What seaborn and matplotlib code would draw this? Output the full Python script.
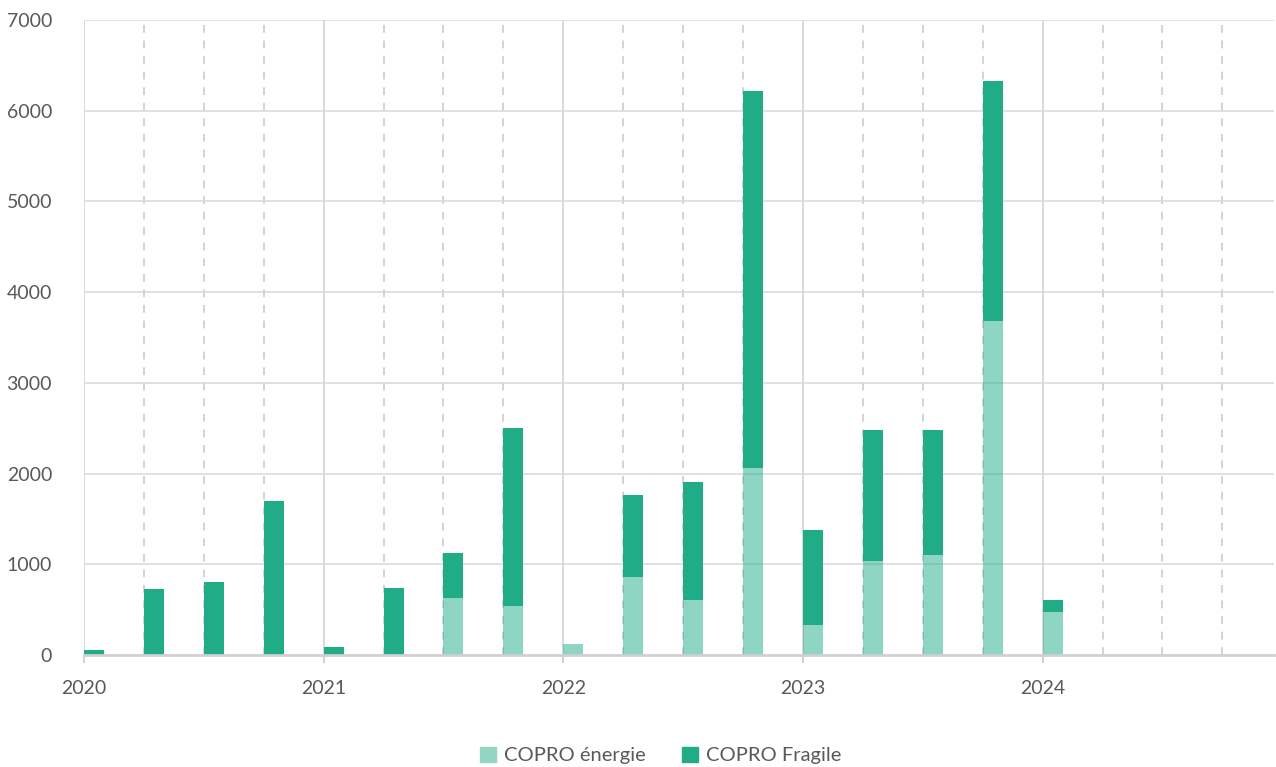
import matplotlib.pyplot as plt
import matplotlib.patches as mpatches
import numpy as np
import pandas as pd
import seaborn as sns

# Quarterly values, 2020 Q1 -> 2024 Q4
years = ['2020', '2021', '2022', '2023', '2024']
energie = [0, 0, 0, 0,
           0, 0, 632, 543,
           125, 863, 610, 2066,
           333, 1035, 1098, 3681,
           477, 0, 0, 0]
fragile = [50, 728, 800, 1700,
           93, 742, 488, 1960,
           0, 897, 1293, 4154,
           1040, 1440, 1382, 2651,
           131, 0, 0, 0]
y_ticks = [0, 1000, 2000, 3000, 4000, 5000, 6000, 7000]

dark = '#21AC88'
light = '#92D5C2'
grid_col = '#d9d9d9'
text_col = '#595959'

sns.set_theme(style='white')
plt.rcParams['font.family'] = ['Lato', 'DejaVu Sans']

df = pd.DataFrame({'q': np.arange(len(energie)), 'energie': energie, 'fragile': fragile})
df['centre'] = df['q'] + 1 / 6  # bars start at the quarter boundary

fig = plt.figure(figsize=(12.76, 7.67), dpi=100)
ax = fig.add_axes([0.0658, 0.146, 0.933, 0.828])

# grid lines
for q in range(20):
    if q % 4 == 0:
        ax.axvline(q, color=grid_col, lw=1.4, zorder=0)
    else:
        ax.axvline(q, color='#d3d3d3', lw=1.4, ls=(0, (4, 4)), zorder=0)
for v in y_ticks[1:]:
    ax.axhline(v, color=grid_col, lw=1.1, zorder=0)

# light layer (semi transparent so the grid shows through)
sns.barplot(data=df, x='centre', y='energie', native_scale=True, width=1 / 3,
            color=dark, alpha=0.5, saturation=1, linewidth=0, ax=ax, zorder=2)
# dark layer stacked on top
ax.bar(df['q'], df['fragile'], bottom=df['energie'], width=1 / 3, align='edge',
       color=dark, linewidth=0, zorder=2)

ax.set_xlim(0, 19.87)
ax.set_ylim(0, 7000)
ax.set_xticks(np.arange(0, 20, 4))
ax.set_xticklabels(years)
ax.set_yticks(y_ticks)
ax.set_xlabel('')
ax.set_ylabel('')

for s in ['top', 'right', 'left']:
    ax.spines[s].set_visible(False)
ax.spines['bottom'].set_color('#d0d0d0')
ax.spines['bottom'].set_linewidth(2)

ax.tick_params(axis='x', bottom=True, length=6, width=1.4, color='#d0d0d0',
               pad=12, labelsize=14, labelcolor=text_col)
ax.tick_params(axis='y', left=False, pad=17, labelsize=14, labelcolor=text_col)

handles = [mpatches.Patch(color=light, label='COPRO énergie'),
           mpatches.Patch(color=dark, label='COPRO Fragile')]
fig.legend(handles=handles, loc='lower center', bbox_to_anchor=(0.518, -0.02),
           ncol=2, frameon=False, fontsize=14.5, labelcolor=text_col,
           handlelength=0.8, handleheight=0.8, handletextpad=0.4, columnspacing=1.8)

fig.savefig('out.png', dpi=100)
